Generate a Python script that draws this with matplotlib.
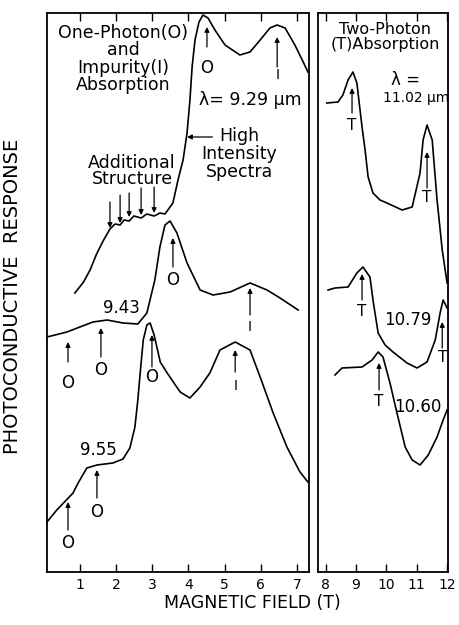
import matplotlib
matplotlib.use('Agg')
import matplotlib.pyplot as plt

plt.rcParams['font.family'] = ['DejaVu Sans']

# ---------------- data (field in T, response in arbitrary units) ----------------
field_929 = [0.86, 1.10, 1.28, 1.46, 1.64, 1.83, 1.97, 2.11, 2.22, 2.36, 2.49, 2.69, 2.85, 3.05,
             3.21, 3.35, 3.57, 3.71, 3.85, 3.96, 4.04, 4.10, 4.18, 4.29, 4.40, 4.54, 4.73, 5.01,
             5.42, 5.70, 5.98, 6.25, 6.45, 6.67, 6.94, 7.17, 7.30]
resp_929 = [279, 290, 302, 318, 331, 343, 348, 347, 352, 351, 356, 354, 358, 356,
            359, 358, 369, 392, 412, 439, 472, 505, 532, 550, 557, 554, 542, 527,
            517, 520, 532, 544, 547, 544, 527, 510, 500]

field_943 = [0.09, 0.64, 1.00, 1.36, 1.75, 2.19, 2.60, 2.85, 3.07, 3.21, 3.35, 3.49, 3.68, 3.96,
             4.32, 4.68, 5.15, 5.70, 6.17, 6.53, 7.03]
resp_943 = [235, 240, 245, 250, 252, 249, 248, 259, 292, 325, 347, 351, 339, 309,
            282, 277, 280, 289, 282, 274, 262]

field_955 = [0.09, 0.36, 0.81, 0.95, 1.19, 1.47, 1.91, 2.19, 2.38, 2.52, 2.60, 2.66, 2.75, 2.85,
             2.94, 3.05, 3.22, 3.41, 3.77, 4.04, 4.32, 4.59, 4.87, 5.29, 5.70, 5.98, 6.34, 6.72,
             7.08, 7.30]
resp_955 = [50, 62, 79, 89, 104, 107, 109, 113, 124, 145, 172, 197, 232, 247,
            249, 237, 210, 199, 180, 174, 185, 199, 222, 230, 222, 195, 159, 125,
            100, 90]

field_1102 = [8.04, 8.41, 8.57, 8.74, 8.90, 9.03, 9.20, 9.30, 9.40, 9.56, 9.79, 10.02, 10.52,
              10.85, 11.11, 11.21, 11.34, 11.51, 11.67, 11.84, 12.00]
resp_1102 = [469, 470, 477, 492, 500, 489, 445, 422, 395, 379, 372, 369, 362,
             365, 399, 432, 447, 432, 372, 322, 289]

field_1079 = [8.08, 8.31, 8.74, 9.03, 9.23, 9.46, 9.56, 9.73, 9.96, 10.22, 10.68, 11.01, 11.34,
              11.61, 11.77, 11.87, 12.00]
resp_1079 = [282, 284, 285, 299, 305, 295, 272, 239, 227, 220, 209, 204, 210,
             232, 259, 272, 264]

field_1060 = [8.31, 8.54, 9.20, 9.53, 9.73, 9.89, 10.12, 10.35, 10.62, 10.85, 11.11, 11.38,
              11.67, 11.87, 12.00]
resp_1060 = [197, 204, 205, 212, 220, 215, 189, 159, 125, 112, 107, 117,
             135, 152, 162]

left_ticks = [1, 2, 3, 4, 5, 6, 7]
right_ticks = [8, 9, 10, 11, 12]
left_ticklabels = ['1', '2', '3', '4', '5', '6', '7']
right_ticklabels = ['8', '9', '10', '11', '12']

# ---------------- figure ----------------
W, H = 459, 625
fig = plt.figure(figsize=(W / 100, H / 100), dpi=100)
fig.patch.set_facecolor('white')

axL = fig.add_axes([47 / W, 53 / H, 262 / W, 559 / H])
axR = fig.add_axes([318 / W, 53 / H, 130 / W, 559 / H])

lw = 1.2
for ax in (axL, axR):
    ax.set_ylim(0, 559)
    ax.set_yticks([])
    for s in ax.spines.values():
        s.set_linewidth(1.3)
        s.set_color('black')
    ax.tick_params(axis='x', direction='in', top=True, bottom=True, length=6,
                   width=1.0, labelsize=10, pad=4, colors='black')

axL.set_xlim(0.09, 7.33)
axR.set_xlim(7.75, 12.03)
axL.set_xticks(left_ticks)
axL.set_xticklabels(left_ticklabels)
axR.set_xticks(right_ticks)
axR.set_xticklabels(right_ticklabels)

axL.plot(field_929, resp_929, color='black', lw=lw)
axL.plot(field_943, resp_943, color='black', lw=lw)
axL.plot(field_955, resp_955, color='black', lw=lw)
axR.plot(field_1102, resp_1102, color='black', lw=lw)
axR.plot(field_1079, resp_1079, color='black', lw=lw)
axR.plot(field_1060, resp_1060, color='black', lw=lw)


def arrow(ax, x, y_tail, y_tip, x_tail=None):
    if x_tail is None:
        x_tail = x
    ax.annotate('', xy=(x, y_tip), xytext=(x_tail, y_tail),
                arrowprops=dict(arrowstyle='-|>', color='black', lw=0.9,
                                mutation_scale=7, shrinkA=0, shrinkB=0))


def label(ax, x, y, s, size=12, **kw):
    ax.text(x, y, s, ha='center', va='center', fontsize=size, color='black', **kw)


# ---- left panel annotations ----
label(axL, 2.19, 513, 'One-Photon(O)\nand\nImpurity(I)\nAbsorption', size=12.5,
      linespacing=0.93, multialignment='center')

# 9.29
arrow(axL, 4.51, 525, 545)
label(axL, 4.51, 504, 'O', size=12)
arrow(axL, 6.45, 505, 535)
label(axL, 6.45, 497, 'I', size=10)
label(axL, 5.70, 472, 'λ= 9.29 µm', size=12.5)

label(axL, 5.40, 418, 'High\nIntensity\nSpectra', size=12.5, linespacing=0.98,
      multialignment='center')
arrow(axL, 3.96, 435, 435, x_tail=4.66)

label(axL, 2.44, 401, 'Additional\nStructure', size=12.5, linespacing=0.9,
      multialignment='center')
for xa, yt, yh in zip([1.83, 2.11, 2.36, 2.69, 3.05],
                      [370, 377, 379, 384, 385],
                      [344, 349, 355, 357, 359]):
    arrow(axL, xa, yt, yh)

# 9.43
label(axL, 2.16, 264, '9.43', size=12)
arrow(axL, 3.57, 305, 334)
label(axL, 3.57, 292, 'O', size=12)
arrow(axL, 5.70, 257, 284)
label(axL, 5.70, 245, 'I', size=10)
arrow(axL, 0.67, 210, 230)
label(axL, 0.67, 189, 'O', size=12)
arrow(axL, 1.58, 215, 244)
label(axL, 1.58, 202, 'O', size=12)

# 9.55
label(axL, 1.50, 122, '9.55', size=12)
arrow(axL, 0.67, 42, 70)
label(axL, 0.67, 29, 'O', size=12)
arrow(axL, 1.47, 74, 102)
label(axL, 1.47, 60, 'O', size=12)
arrow(axL, 2.99, 205, 237)
label(axL, 2.99, 195, 'O', size=12)
arrow(axL, 5.29, 200, 222)
label(axL, 5.29, 186, 'I', size=10)

# ---- right panel annotations ----
label(axR, 9.96, 535, 'Two-Photon\n(T)Absorption', size=11.5, linespacing=0.93,
      multialignment='center')
label(axR, 10.62, 492, 'λ =', size=12)
label(axR, 10.97, 474, '11.02 µm', size=10)

arrow(axR, 8.87, 459, 484)
label(axR, 8.87, 447, 'T', size=11)
arrow(axR, 11.34, 384, 420)
label(axR, 11.34, 374, 'T', size=11)

arrow(axR, 9.20, 272, 298)
label(axR, 9.20, 260, 'T', size=11)
label(axR, 10.72, 252, '10.79', size=12)
arrow(axR, 11.84, 224, 250)
label(axR, 11.84, 215, 'T', size=11)

arrow(axR, 9.76, 182, 209)
label(axR, 9.76, 171, 'T', size=11)
label(axR, 11.05, 165, '10.60', size=12)

# axis labels
fig.text(252 / W, 1 - 603 / H, 'MAGNETIC FIELD (T)', ha='center', va='center', fontsize=12.5)
fig.text(13 / W, 1 - 296 / H, 'PHOTOCONDUCTIVE  RESPONSE', ha='center', va='center',
         rotation=90, fontsize=14)

fig.savefig('out.png', dpi=100, facecolor='white')
